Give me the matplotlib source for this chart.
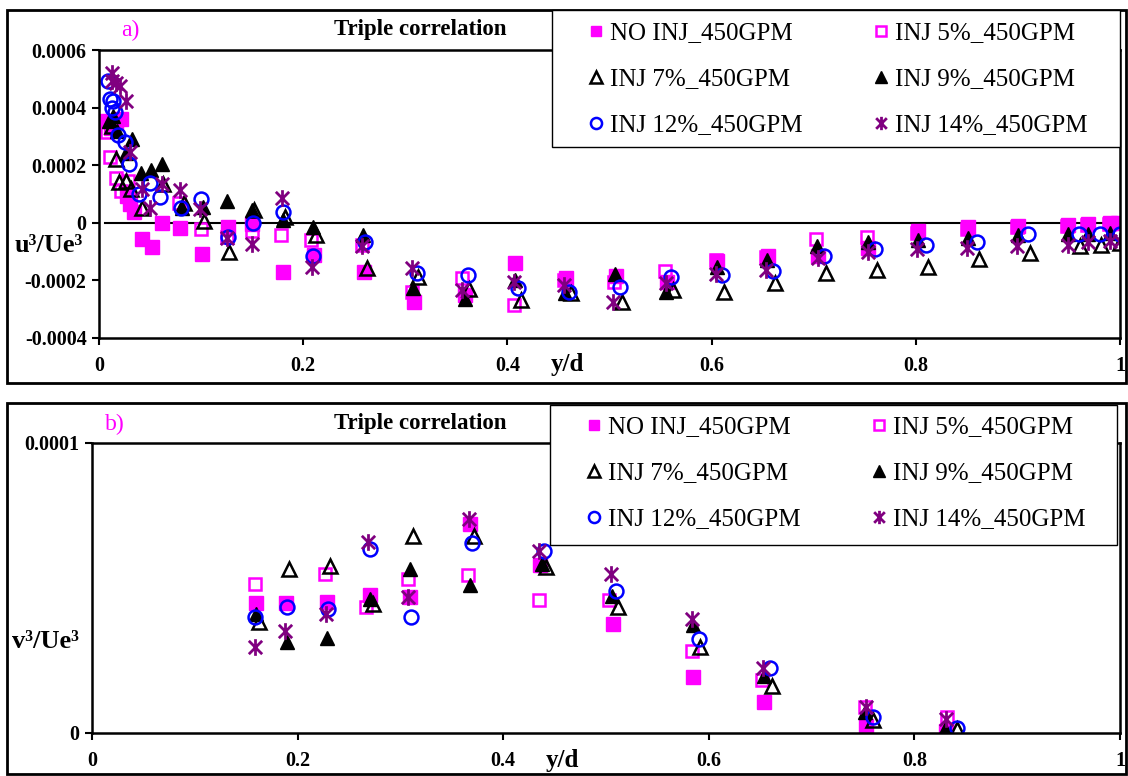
import matplotlib
matplotlib.use('Agg')
import matplotlib.pyplot as plt
from matplotlib.patches import Rectangle
from matplotlib.path import Path
import numpy as np

plt.rcParams.update({
    'font.family': 'Liberation Serif',
    'font.size': 14,
    'axes.linewidth': 1.8,
})

# ---- panel a) u^3/Ue^3 (values in units of 1e-4) ----
a_x_no = [0.0075, 0.012, 0.017, 0.022, 0.027, 0.030, 0.034, 0.042, 0.052, 0.062, 0.079, 0.101, 0.126,
          0.150, 0.180, 0.211, 0.260, 0.309, 0.358, 0.407, 0.457, 0.506, 0.556, 0.605, 0.655, 0.704,
          0.753, 0.802, 0.851, 0.900, 0.949, 0.969, 0.990, 0.998]
a_y_no = [3.55, 3.3, 3.5, 3.6, 0.94, 0.65, 0.36, -0.56, -0.85, -0.01, -0.17, -1.10, -0.13,
          -0.05, -1.72, -1.12, -1.70, -2.74, -2.50, -1.40, -1.92, -1.85, -2.04, -1.32, -1.17, -1.17,
          -0.87, -0.30, -0.13, -0.10, -0.07, -0.03, 0.0, 0.0]

a_x_5 = [0.008, 0.011, 0.017, 0.022, 0.027, 0.028, 0.030, 0.078, 0.100, 0.125, 0.150, 0.178, 0.208,
         0.258, 0.307, 0.356, 0.406, 0.455, 0.504, 0.554, 0.604, 0.653, 0.702, 0.752, 0.801, 0.850,
         0.899, 0.948, 0.968, 0.989]
a_y_5 = [3.14, 2.27, 1.55, 1.10, 0.95, 1.45, 0.80, 0.68, -0.23, -0.48, -0.30, -0.42, -0.58,
         -0.77, -2.42, -1.92, -2.87, -2.00, -2.05, -1.69, -1.30, -1.20, -0.57, -0.48, -0.35, -0.20,
         -0.15, -0.10, -0.08, -0.05]

a_x_7 = [0.013, 0.017, 0.020, 0.026, 0.031, 0.042, 0.063, 0.083, 0.103, 0.127, 0.152, 0.182, 0.213,
         0.262, 0.312, 0.362, 0.413, 0.462, 0.512, 0.562, 0.612, 0.662, 0.712, 0.762, 0.812, 0.862,
         0.912, 0.961, 0.981, 1.000]
a_y_7 = [3.35, 2.21, 1.40, 1.46, 1.17, 0.53, 1.35, 0.70, 0.07, -1.00, 0.45, 0.19, -0.43,
         -1.58, -1.87, -2.30, -2.68, -2.45, -2.74, -2.33, -2.42, -2.08, -1.73, -1.63, -1.52, -1.26,
         -1.05, -0.82, -0.76, -0.70]

a_x_9 = [0.010, 0.014, 0.018, 0.026, 0.032, 0.041, 0.051, 0.062, 0.081, 0.102, 0.125, 0.150, 0.180,
         0.210, 0.259, 0.308, 0.358, 0.407, 0.456, 0.505, 0.555, 0.605, 0.654, 0.703, 0.753, 0.802,
         0.851, 0.900, 0.949, 0.969, 0.990]
a_y_9 = [3.55, 3.72, 3.20, 2.44, 2.91, 1.73, 1.83, 2.04, 0.50, 0.55, 0.75, 0.45, 0.08,
         -0.13, -0.42, -2.27, -2.64, -1.98, -2.45, -1.78, -2.39, -1.52, -1.29, -0.82, -0.68, -0.59,
         -0.53, -0.42, -0.38, -0.38, -0.35]

a_x_12 = [0.0085, 0.011, 0.014, 0.013, 0.016, 0.019, 0.025, 0.029, 0.039, 0.050, 0.060, 0.080, 0.100,
          0.126, 0.151, 0.180, 0.210, 0.261, 0.311, 0.361, 0.410, 0.460, 0.510, 0.560, 0.610, 0.660,
          0.710, 0.760, 0.810, 0.860, 0.910, 0.960, 0.980, 1.000]
a_y_12 = [4.94, 4.30, 4.24, 4.00, 3.83, 3.05, 2.79, 2.04, 1.00, 1.37, 0.88, 0.53, 0.84,
          -0.50, 0.00, 0.38, -1.15, -0.65, -1.75, -1.81, -2.27, -2.40, -2.24, -1.87, -1.81, -1.66,
          -1.15, -0.91, -0.76, -0.68, -0.39, -0.38, -0.38, -0.38]

a_x_14 = [0.0125, 0.013, 0.017, 0.021, 0.026, 0.030, 0.042, 0.050, 0.062, 0.079, 0.099, 0.125, 0.150,
          0.179, 0.209, 0.258, 0.307, 0.356, 0.406, 0.455, 0.503, 0.555, 0.604, 0.653, 0.704, 0.753,
          0.801, 0.850, 0.899, 0.949, 0.969, 0.990, 1.000]
a_y_14 = [5.19, 4.94, 4.85, 4.76, 4.24, 2.47, 1.17, 0.53, 1.33, 1.14, 0.48, -0.53, -0.72,
          0.87, -1.52, -0.82, -1.58, -2.33, -2.04, -2.16, -2.74, -2.09, -1.78, -1.63, -1.23, -1.03,
          -0.91, -0.88, -0.82, -0.76, -0.68, -0.64, -0.64]

# ---- panel b) v^3/Ue^3 (values in units of 1e-4) ----
b_x_no = [0.160, 0.189, 0.229, 0.270, 0.309, 0.368, 0.436, 0.507, 0.585, 0.654, 0.753, 0.831]
b_y_no = [0.448, 0.448, 0.451, 0.476, 0.468, 0.722, 0.578, 0.376, 0.192, 0.108, 0.025, 0.008]
b_x_5 = [0.159, 0.189, 0.227, 0.267, 0.307, 0.366, 0.435, 0.503, 0.584, 0.652, 0.752, 0.832]
b_y_5 = [0.514, 0.450, 0.549, 0.434, 0.532, 0.545, 0.457, 0.460, 0.284, 0.183, 0.091, 0.054]
b_x_7 = [0.162, 0.192, 0.232, 0.273, 0.312, 0.372, 0.442, 0.512, 0.591, 0.661, 0.760, 0.841]
b_y_7 = [0.382, 0.566, 0.575, 0.445, 0.681, 0.681, 0.572, 0.434, 0.298, 0.163, 0.045, 0.014]
b_x_9 = [0.160, 0.190, 0.229, 0.270, 0.309, 0.368, 0.4375, 0.506, 0.585, 0.654, 0.752, 0.830]
b_y_9 = [0.410, 0.313, 0.327, 0.463, 0.566, 0.511, 0.583, 0.474, 0.371, 0.198, 0.071, 0.014]
b_x_12 = [0.159, 0.190, 0.230, 0.270, 0.310, 0.370, 0.440, 0.510, 0.590, 0.660, 0.760, 0.841]
b_y_12 = [0.400, 0.436, 0.428, 0.635, 0.400, 0.656, 0.626, 0.488, 0.325, 0.223, 0.054, 0.017]
b_x_14 = [0.159, 0.188, 0.228, 0.268, 0.307, 0.367, 0.435, 0.505, 0.584, 0.653, 0.753, 0.831]
b_y_14 = [0.296, 0.353, 0.409, 0.658, 0.468, 0.739, 0.629, 0.549, 0.394, 0.223, 0.089, 0.048]

labels = ['NO INJ_450GPM', 'INJ 5%_450GPM', 'INJ 7%_450GPM',
          'INJ 9%_450GPM', 'INJ 12%_450GPM', 'INJ 14%_450GPM']

a_xy = [(a_x_no, a_y_no), (a_x_5, a_y_5), (a_x_7, a_y_7),
        (a_x_9, a_y_9), (a_x_12, a_y_12), (a_x_14, a_y_14)]
b_xy = [(b_x_no, b_y_no), (b_x_5, b_y_5), (b_x_7, b_y_7),
        (b_x_9, b_y_9), (b_x_12, b_y_12), (b_x_14, b_y_14)]

# Excel-like star: X with a vertical bar
star = Path([(-1, -1), (1, 1), (-1, 1), (1, -1), (0, -1.25), (0, 1.25)],
            [Path.MOVETO, Path.LINETO, Path.MOVETO, Path.LINETO, Path.MOVETO, Path.LINETO])

magenta = '#FF00FF'
styles = [
    dict(marker='s', ms=9.5, mfc=magenta, mec=magenta, mew=1.0),
    dict(marker='s', ms=9, mfc='none', mec=magenta, mew=1.8),
    dict(marker='^', ms=10, mfc='none', mec='black', mew=1.8),
    dict(marker='^', ms=10, mfc='black', mec='black', mew=1.0),
    dict(marker='o', ms=10, mfc='none', mec='#0000FF', mew=1.8),
    dict(marker=star, ms=12, mfc='none', mec='#800080', mew=2.0),
]

W, H = 1128, 776
fig = plt.figure(figsize=(W / 100, H / 100), dpi=100)

# outer frames
fig.add_artist(Rectangle((7 / W, 1 - 383 / H), 1119 / W, 373 / H, transform=fig.transFigure,
                         fill=False, lw=2, ec='black'))
fig.add_artist(Rectangle((7 / W, 0.002), 1119 / W, 1 - 403 / H - 0.002, transform=fig.transFigure,
                         fill=False, lw=2, ec='black'))

ax1 = fig.add_axes([99 / W, 1 - 338 / H, 1021 / W, 288 / H])
ax2 = fig.add_axes([92 / W, 1 - 733 / H, 1028 / W, 290 / H])


def draw(ax, data):
    handles = []
    for (xs, ys), st, lab in zip(data, styles, labels):
        h, = ax.plot(xs, np.array(ys) * 1e-4, ls='none', label=lab, **st)
        handles.append(h)
    return handles


h1 = draw(ax1, a_xy)
draw(ax2, b_xy)

ax1.axhline(0, xmin=0.006, color='black', lw=1.5, zorder=0)

xt = [0, 0.2, 0.4, 0.6, 0.8, 1.0]
xtl = ['0', '0.2', '0.4', '0.6', '0.8', '1']
for ax in (ax1, ax2):
    ax.set_xlim(0, 1)
    ax.set_xticks(xt)
    ax.set_xticklabels(xtl, fontweight='bold', fontsize=14.5)
    ax.tick_params(direction='out', length=5, width=1.5, labelsize=14.5)
    ax.tick_params(axis='x', pad=8)
    ax.tick_params(axis='y', pad=4)

ax1.set_ylim(-0.0004, 0.0006)
ax1.set_yticks([-0.0004, -0.0002, 0, 0.0002, 0.0004, 0.0006])
ax1.set_yticklabels(['-0.0004', '-0.0002', '0', '0.0002', '0.0004', '0.0006'], fontweight='bold')

ax2.set_ylim(0, 0.0001)
ax2.set_yticks([0, 0.0001])
ax2.set_yticklabels(['0', '0.0001'], fontweight='bold')

# texts
fig.text(15 / W, 1 - 245 / H, 'u³/Ue³', fontsize=19, fontweight='bold', va='center', ha='left')
fig.text(12 / W, 1 - 642 / H, 'v³/Ue³', fontsize=19, fontweight='bold', va='center', ha='left')
fig.text(567 / W, 1 - 365 / H, 'y/d', fontsize=18, fontweight='bold', va='center', ha='center')
fig.text(562 / W, 1 - 760 / H, 'y/d', fontsize=18, fontweight='bold', va='center', ha='center')
fig.text(420 / W, 1 - 30 / H, 'Triple correlation', fontsize=16.5, fontweight='bold',
         va='center', ha='center')
fig.text(420 / W, 1 - 424 / H, 'Triple correlation', fontsize=16.5, fontweight='bold',
         va='center', ha='center')
fig.text(130 / W, 1 - 30 / H, 'a)', fontsize=17, color=magenta, va='center', ha='center')
fig.text(115 / W, 1 - 424 / H, 'b)', fontsize=17, color=magenta, va='center', ha='center')

# legends: white box drawn separately, entries placed with explicit spacing
order = [0, 2, 4, 1, 3, 5]
for (bx0, by0, bx1, by1), (lx, ly) in (((552, 10, 1120, 147), (583, 22)),
                                        ((550, 405, 1117, 545), (581, 416))):
    fig.add_artist(Rectangle((bx0 / W, 1 - by1 / H), (bx1 - bx0) / W, (by1 - by0) / H,
                             transform=fig.transFigure, fc='white', ec='black', lw=1.0,
                             zorder=4))
    leg = fig.legend([h1[i] for i in order], [labels[i] for i in order], ncol=2,
                     loc='upper left', bbox_to_anchor=(lx / W, 1 - ly / H),
                     bbox_transform=fig.transFigure, fontsize=18, frameon=False,
                     borderaxespad=0, borderpad=0, handlelength=1.0, handletextpad=0.06,
                     labelspacing=0.94, columnspacing=2.66, markerscale=0.8)
    leg.set_zorder(5)

plt.savefig('out.png', dpi=100)
